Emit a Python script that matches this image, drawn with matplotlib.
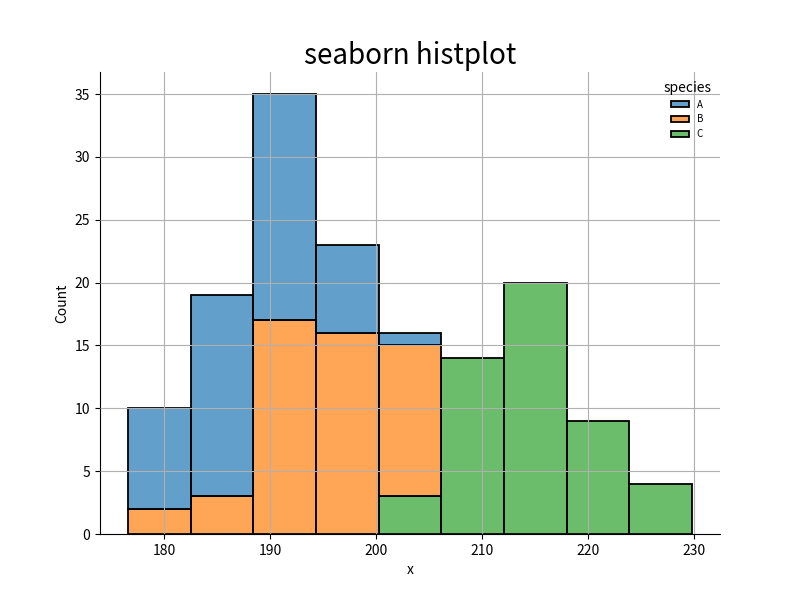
import numpy as np
import matplotlib
matplotlib.use("Agg")
import matplotlib.pyplot as plt
from matplotlib.patches import Patch

plt.rcParams['font.family'] = ['Noto Sans CJK JP', 'DejaVu Sans']

bin_edges = [176.6, 182.51, 188.42, 194.33, 200.24, 206.16, 212.07, 217.98, 223.89, 229.8]
species = ["A", "B", "C"]
count_A = [8, 16, 18, 7, 1, 0, 0, 0, 0]
count_B = [2, 3, 17, 16, 12, 0, 0, 0, 0]
count_C = [0, 0, 0, 0, 3, 14, 20, 9, 4]
colors = ["#1f77b4", "#ff7f0e", "#2ca02c"]

edges = np.array(bin_edges)
lefts = edges[:-1]
widths = np.diff(edges)
A = np.array(count_A); B = np.array(count_B); C = np.array(count_C)

fig, ax = plt.subplots(figsize=(8, 6), dpi=100)
ax.grid(True, color="#b0b0b0", linewidth=0.8)
ax.set_axisbelow(False)

# stack: C bottom, B middle, A top
layers = [(C, np.zeros_like(C), colors[2]),
          (B, C, colors[1]),
          (A, C + B, colors[0])]
for vals, bottom, col in layers:
    mask = vals > 0
    ax.bar(lefts[mask], vals[mask], width=widths[mask], bottom=bottom[mask],
           align="edge", color=col, alpha=0.7, edgecolor="black", linewidth=1.3)
    # make edge opaque
for p in ax.patches:
    fc = p.get_facecolor()
    p.set_alpha(None)
    p.set_facecolor((fc[0], fc[1], fc[2], 0.7))
    p.set_edgecolor((0, 0, 0, 1))

ax.set_title("seaborn histplot", fontsize=20)
ax.set_xlabel("x")
ax.set_ylabel("Count")
ax.spines["top"].set_visible(False)
ax.spines["right"].set_visible(False)
ax.set_xticks([180, 190, 200, 210, 220, 230])
ax.set_yticks([0, 5, 10, 15, 20, 25, 30, 35])

handles = [Patch(facecolor=(*matplotlib.colors.to_rgb(c), 0.7), edgecolor="black", linewidth=1.3, label=s)
           for s, c in zip(species, colors)]
leg = ax.legend(handles=handles, title="species", loc="upper right", frameon=False,
                fontsize=7, title_fontsize=10, handlelength=1.8, handleheight=0.6)

fig.savefig("out.png", dpi=100)
